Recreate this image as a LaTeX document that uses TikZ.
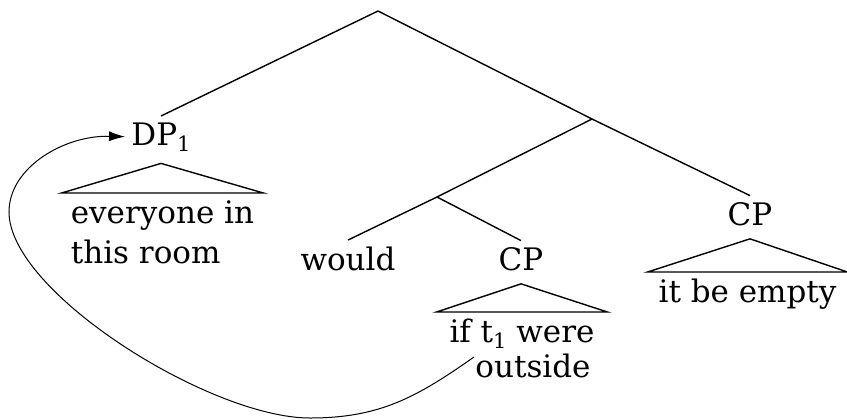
\documentclass[tikz,border=0pt]{standalone}
\usepackage{fontspec}
\setmainfont{DejaVu Serif}
\usepackage{tikz}
\usetikzlibrary{arrows.meta}

\newcommand{\trsub}[1]{\raisebox{-3pt}{\fontsize{10.5}{10}\selectfont #1}}

\begin{document}
\begin{tikzpicture}[
    x=0.5pt, y=-0.5pt,
    cat/.style={
        font=\fontsize{15.5}{20}\selectfont,
        inner sep=3pt,
        anchor=base
    },
    leaf/.style={
        font=\fontsize{15.5}{20}\selectfont,
        anchor=north,
        inner xsep=0pt,
        inner ysep=3.5pt
    },
    branch/.style={line width=0.7pt},
    roof/.style={line width=0.7pt},
    trace/.style={line width=0.5pt, -{Latex[length=8pt,width=5pt]}}
]
\useasboundingbox (0,0) rectangle (847,419);

\coordinate (root) at (378,11);
\coordinate (vp) at (592,119);
\coordinate (modal) at (437,197);

\node[cat] (dp) at (161,145) {DP\trsub{1}};
\node[cat] (would) at (348,270) {would};
\node[cat] (ifcp) at (521,270) {CP};
\node[cat] (cp) at (750,225) {CP};

\draw[branch] (root) -- (dp.north);
\draw[branch] (root) -- (vp) -- (cp.north);
\draw[branch] (vp) -- (modal) -- (would.north);
\draw[branch] (modal) -- (ifcp.north);

\node[leaf, minimum width=100.5pt, align=left] (dpwords) at (162.5,193) {everyone in\\this room};
\node[leaf, minimum width=85pt, align=center] (ifwords) at (522,312) {if t\trsub{1} were\\[-2.5pt]\hspace*{11pt}outside};
\node[leaf, minimum width=99.5pt] (cpwords) at (747.5,272) {it be empty};

\draw[roof] ([yshift=-3pt]dp.south) -- (dpwords.north west) -- (dpwords.north east) -- cycle;
\draw[roof] ([yshift=-3.5pt]ifcp.south) -- (ifwords.north west) -- (ifwords.north east) -- cycle;
\draw[roof] ([yshift=-3.5pt]cp.south) -- (cpwords.north west) -- (cpwords.north east) -- cycle;

% movement of the subject out of the if-clause
\coordinate (trace) at (474,357);
\draw[trace] (trace) .. controls (417,397) and (380,418) .. (310,418)
    .. controls (210,418) and (9,292) .. (9,212)
    .. controls (9,167) and (65,135) .. (dp.west);

\end{tikzpicture}
\end{document}
